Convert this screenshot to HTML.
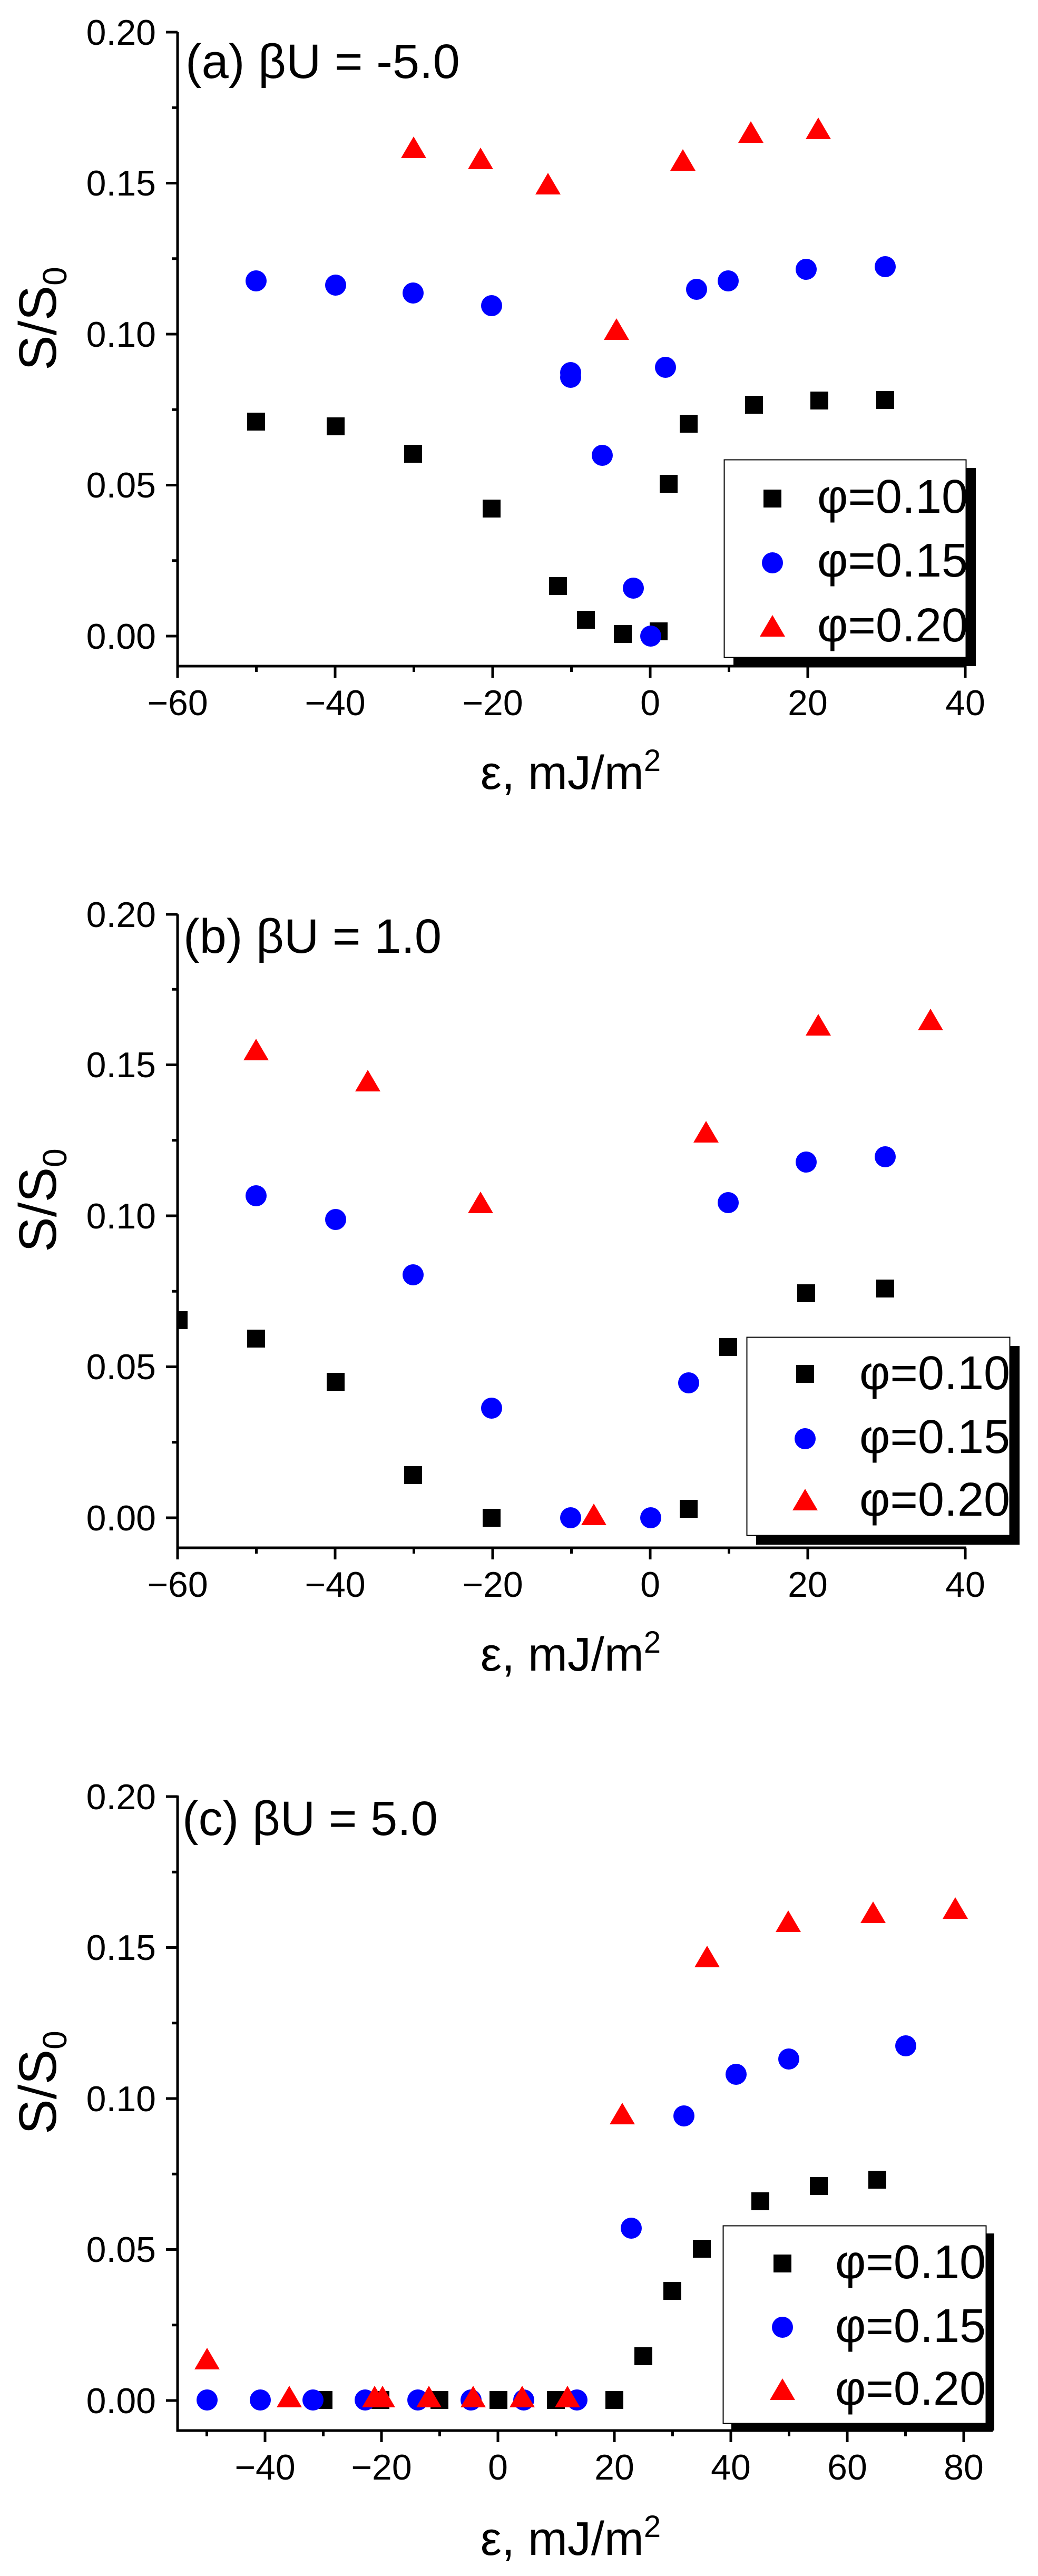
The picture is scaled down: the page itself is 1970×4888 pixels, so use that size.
<!DOCTYPE html>
<html><head><meta charset="utf-8"><style>
html,body{margin:0;padding:0;background:#fff;}
svg{display:block;}
text{font-family:"Liberation Sans",Arial,sans-serif;fill:#000;}
</style></head><body>
<svg width="1970" height="4888" viewBox="0 0 1970 4888" xmlns="http://www.w3.org/2000/svg">
<defs>
<rect id="sq" x="-17" y="-17" width="34" height="34" fill="#000"/>
<ellipse id="ci" cx="0" cy="0" rx="20" ry="20" fill="#0000ff"/>
<path id="tr" d="M0,-25 L24,16 L-24,16 Z" fill="#ff0000"/>
<clipPath id="clipB"><rect x="337" y="1600" width="1700" height="1400"/></clipPath>
</defs>

<!-- ================= PANEL A ================= -->
<g stroke="#000" stroke-width="5" fill="none">
<path d="M337,61 V1264 H1834"/>
<path d="M315,1207H337 M315,920.5H337 M315,634H337 M315,347.5H337 M315,61H337"/>
<path d="M326,1063.75H337 M326,777.25H337 M326,490.75H337 M326,204.25H337"/>
<path d="M337,1264V1286 M636,1264V1286 M935,1264V1286 M1234,1264V1286 M1533,1264V1286 M1832,1264V1286"/>
<path d="M486.5,1264V1275 M785.5,1264V1275 M1084.5,1264V1275 M1383.5,1264V1275"/>
</g>
<g font-size="68" text-anchor="end">
<text x="296" y="1231">0.00</text><text x="296" y="944">0.05</text><text x="296" y="658">0.10</text><text x="296" y="371">0.15</text><text x="296" y="85">0.20</text>
</g>
<g font-size="68" text-anchor="middle">
<text x="337" y="1357">−60</text><text x="636" y="1357">−40</text><text x="935" y="1357">−20</text><text x="1234" y="1357">0</text><text x="1533" y="1357">20</text><text x="1832" y="1357">40</text>
</g>
<text x="352" y="148" font-size="92">(a) βU = -5.0</text>
<text x="1083" y="1497" font-size="90" text-anchor="middle">ε, mJ/m<tspan font-size="58" dy="-34">2</tspan></text>
<text transform="translate(106,703) rotate(-90)" font-size="100">S/S<tspan font-size="64" dy="20">0</tspan></text>
<g>
<use href="#sq" x="486" y="800"/><use href="#sq" x="637" y="809"/><use href="#sq" x="784" y="861"/><use href="#sq" x="933" y="965"/><use href="#sq" x="1059" y="1112"/><use href="#sq" x="1112" y="1176"/><use href="#sq" x="1182" y="1203"/><use href="#sq" x="1250" y="1198"/><use href="#sq" x="1269" y="918"/><use href="#sq" x="1307" y="804"/><use href="#sq" x="1431" y="768"/><use href="#sq" x="1555" y="760"/><use href="#sq" x="1680" y="759"/>
<use href="#ci" x="486" y="533"/><use href="#ci" x="637" y="541"/><use href="#ci" x="784" y="556"/><use href="#ci" x="933" y="580"/><use href="#ci" x="1083" y="707"/><use href="#ci" x="1083" y="716"/><use href="#ci" x="1143" y="864"/><use href="#ci" x="1202" y="1116"/><use href="#ci" x="1235" y="1207"/><use href="#ci" x="1263" y="697"/><use href="#ci" x="1322" y="549"/><use href="#ci" x="1382" y="533"/><use href="#ci" x="1530" y="511"/><use href="#ci" x="1680" y="506"/>
<use href="#tr" x="785" y="284"/><use href="#tr" x="912" y="305"/><use href="#tr" x="1040" y="353"/><use href="#tr" x="1170" y="629"/><use href="#tr" x="1296" y="308"/><use href="#tr" x="1425" y="255"/><use href="#tr" x="1553" y="248"/>
</g>
<rect x="1392" y="888" width="460" height="376" fill="#000"/>
<rect x="1374.5" y="872.5" width="459" height="375" fill="#fff" stroke="#000" stroke-width="2"/>
<use href="#sq" x="1466" y="946"/><use href="#ci" x="1466" y="1068"/><use href="#tr" x="1466" y="1192"/>
<g font-size="90"><text x="1551" y="973">φ=0.10</text><text x="1551" y="1094">φ=0.15</text><text x="1551" y="1217">φ=0.20</text></g>

<!-- ================= PANEL B ================= -->
<g stroke="#000" stroke-width="5" fill="none">
<path d="M337,1735 V2937 H1834"/>
<path d="M315,2880H337 M315,2593.5H337 M315,2307H337 M315,2020.5H337 M315,1735H337"/>
<path d="M326,2736.75H337 M326,2450.25H337 M326,2163.75H337 M326,1877.25H337"/>
<path d="M337,2937V2959 M636,2937V2959 M935,2937V2959 M1234,2937V2959 M1533,2937V2959 M1832,2937V2959"/>
<path d="M486.5,2937V2948 M785.5,2937V2948 M1084.5,2937V2948 M1383.5,2937V2948"/>
</g>
<g font-size="68" text-anchor="end">
<text x="296" y="2904">0.00</text><text x="296" y="2617">0.05</text><text x="296" y="2331">0.10</text><text x="296" y="2044">0.15</text><text x="296" y="1759">0.20</text>
</g>
<g font-size="68" text-anchor="middle">
<text x="337" y="3030">−60</text><text x="636" y="3030">−40</text><text x="935" y="3030">−20</text><text x="1234" y="3030">0</text><text x="1533" y="3030">20</text><text x="1832" y="3030">40</text>
</g>
<text x="348" y="1808" font-size="92">(b) βU = 1.0</text>
<text x="1083" y="3170" font-size="90" text-anchor="middle">ε, mJ/m<tspan font-size="58" dy="-34">2</tspan></text>
<text transform="translate(106,2376) rotate(-90)" font-size="100">S/S<tspan font-size="64" dy="20">0</tspan></text>
<g clip-path="url(#clipB)">
<use href="#sq" x="339" y="2505"/>
</g>
<g>
<use href="#sq" x="486" y="2540"/><use href="#sq" x="637" y="2622"/><use href="#sq" x="784" y="2799"/><use href="#sq" x="933" y="2880"/><use href="#sq" x="1307" y="2863"/><use href="#sq" x="1382" y="2556"/><use href="#sq" x="1530" y="2454"/><use href="#sq" x="1680" y="2445"/>
<use href="#ci" x="486" y="2269"/><use href="#ci" x="637" y="2314"/><use href="#ci" x="784" y="2419"/><use href="#ci" x="933" y="2672"/><use href="#ci" x="1083" y="2880"/><use href="#ci" x="1235" y="2880"/><use href="#ci" x="1307" y="2624"/><use href="#ci" x="1382" y="2282"/><use href="#ci" x="1530" y="2205"/><use href="#ci" x="1680" y="2195"/>
<use href="#tr" x="486" y="1996"/><use href="#tr" x="698" y="2055"/><use href="#tr" x="912" y="2286"/><use href="#tr" x="1127" y="2878"/><use href="#tr" x="1340" y="2152"/><use href="#tr" x="1553" y="1949"/><use href="#tr" x="1766" y="1939"/>
</g>
<rect x="1435" y="2554" width="500" height="377" fill="#000"/>
<rect x="1417.5" y="2537.5" width="499" height="376" fill="#fff" stroke="#000" stroke-width="2"/>
<use href="#sq" x="1528" y="2607"/><use href="#ci" x="1528" y="2730"/><use href="#tr" x="1528" y="2850"/>
<g font-size="90"><text x="1631" y="2636">φ=0.10</text><text x="1631" y="2757">φ=0.15</text><text x="1631" y="2876">φ=0.20</text></g>

<!-- ================= PANEL C ================= -->
<g stroke="#000" stroke-width="5" fill="none">
<path d="M337,3407 V4612 H1884"/>
<path d="M315,4555H337 M315,4268.5H337 M315,3982H337 M315,3695.5H337 M315,3409H337"/>
<path d="M326,4411.75H337 M326,4125.25H337 M326,3838.75H337 M326,3552.25H337"/>
<path d="M503,4612V4634 M724,4612V4634 M945,4612V4634 M1166,4612V4634 M1387,4612V4634 M1608,4612V4634 M1829,4612V4634"/>
<path d="M392.5,4612V4623 M613.5,4612V4623 M834.5,4612V4623 M1055.5,4612V4623 M1276.5,4612V4623 M1497.5,4612V4623 M1718.5,4612V4623"/>
</g>
<g font-size="68" text-anchor="end">
<text x="296" y="4579">0.00</text><text x="296" y="4292">0.05</text><text x="296" y="4006">0.10</text><text x="296" y="3719">0.15</text><text x="296" y="3433">0.20</text>
</g>
<g font-size="68" text-anchor="middle">
<text x="503" y="4705">−40</text><text x="724" y="4705">−20</text><text x="945" y="4705">0</text><text x="1166" y="4705">20</text><text x="1387" y="4705">40</text><text x="1608" y="4705">60</text><text x="1829" y="4705">80</text>
</g>
<text x="346" y="3482" font-size="92">(c) βU = 5.0</text>
<text x="1083" y="4848" font-size="90" text-anchor="middle">ε, mJ/m<tspan font-size="58" dy="-34">2</tspan></text>
<text transform="translate(106,4050) rotate(-90)" font-size="100">S/S<tspan font-size="64" dy="20">0</tspan></text>
<g>
<use href="#sq" x="614" y="4554"/><use href="#sq" x="722" y="4554"/><use href="#sq" x="834" y="4554"/><use href="#sq" x="946" y="4554"/><use href="#sq" x="1055" y="4554"/><use href="#sq" x="1166" y="4554"/><use href="#sq" x="1221" y="4471"/><use href="#sq" x="1276" y="4347"/><use href="#sq" x="1332" y="4267"/><use href="#sq" x="1443" y="4177"/><use href="#sq" x="1554" y="4148"/><use href="#sq" x="1665" y="4136"/>
<use href="#ci" x="393" y="4554"/><use href="#ci" x="494" y="4554"/><use href="#ci" x="594" y="4554"/><use href="#ci" x="693" y="4554"/><use href="#ci" x="793" y="4554"/><use href="#ci" x="894" y="4554"/><use href="#ci" x="994" y="4554"/><use href="#ci" x="1095" y="4554"/><use href="#ci" x="1198" y="4228"/><use href="#ci" x="1298" y="4015"/><use href="#ci" x="1397" y="3936"/><use href="#ci" x="1497" y="3907"/><use href="#ci" x="1719" y="3882"/>
<use href="#tr" x="393" y="4480"/><use href="#tr" x="549" y="4552"/><use href="#tr" x="711" y="4552"/><use href="#tr" x="726" y="4552"/><use href="#tr" x="814" y="4552"/><use href="#tr" x="898" y="4552"/><use href="#tr" x="991" y="4552"/><use href="#tr" x="1077" y="4552"/><use href="#tr" x="1181" y="4015"/><use href="#tr" x="1342" y="3717"/><use href="#tr" x="1496" y="3650"/><use href="#tr" x="1657" y="3633"/><use href="#tr" x="1813" y="3625"/>
</g>
<rect x="1388" y="4238" width="499" height="374" fill="#000"/>
<rect x="1372.5" y="4223.5" width="499" height="375" fill="#fff" stroke="#000" stroke-width="2"/>
<use href="#sq" x="1485" y="4295"/><use href="#ci" x="1485" y="4416"/><use href="#tr" x="1485" y="4538"/>
<g font-size="90"><text x="1585" y="4323">φ=0.10</text><text x="1585" y="4444">φ=0.15</text><text x="1585" y="4563">φ=0.20</text></g>
</svg>
</body></html>
